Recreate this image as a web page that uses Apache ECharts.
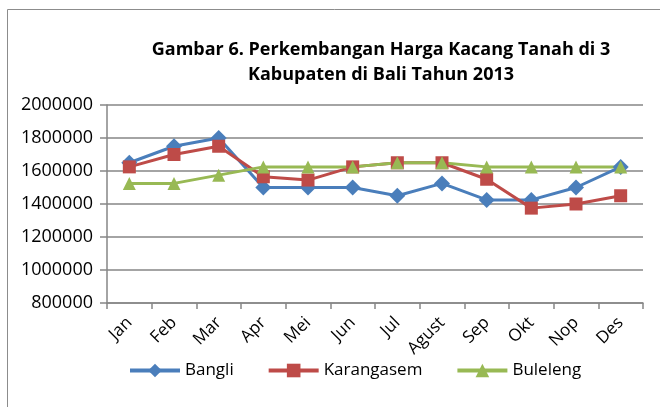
<!DOCTYPE html>
<html lang="en">
  <head>
    <meta charset="UTF-8" />
    <title>Harga Kacang Tanah di Bali 2013</title>
    <script src="https://cdn.jsdelivr.net/npm/echarts@6.0.0/dist/echarts.min.js"></script>
    <style>
      html, body { margin: 0; padding: 0; background: #fff; }
      #main { width: 660px; height: 407px; }
    </style>
  </head>
  <body>
    <div id="main"></div>
    <script>
      const months = ["Jan", "Feb", "Mar", "Apr", "Mei", "Jun", "Jul", "Agust", "Sep", "Okt", "Nop", "Des"];
      const bangli = [1650000, 1750000, 1800000, 1500000, 1500000, 1500000, 1450000, 1525000, 1425000, 1425000, 1500000, 1625000];
      const karangasem = [1625000, 1700000, 1750000, 1565000, 1545000, 1625000, 1650000, 1650000, 1550000, 1375000, 1400000, 1450000];
      const buleleng = [1525000, 1525000, 1575000, 1625000, 1625000, 1625000, 1650000, 1650000, 1625000, 1625000, 1625000, 1625000];
      const yTicks = { min: 800000, max: 2000000, step: 200000 };

      const font = "'Open Sans', sans-serif";
      let myChart = echarts.init(document.getElementById("main"));

      function makeSeries(name, data, color, symbol) {
        return {
          name: name,
          type: "line",
          data: data,
          symbol: symbol,
          symbolSize: symbol === "diamond" ? 16 : 13,
          lineStyle: { color: color, width: 3 },
          itemStyle: { color: color },
          animation: false,
        };
      }

      let options = {
        title: {
          text: "Gambar 6. Perkembangan Harga Kacang Tanah di 3\nKabupaten di Bali Tahun 2013",
          left: 376,
          top: 32,
          textAlign: "center",
          textStyle: { fontFamily: font, fontWeight: "bold", fontSize: 18, lineHeight: 25, color: "#000" },
        },
        graphic: [
          {
            type: "rect",
            shape: { x: 7.5, y: 9.5, width: 700, height: 420 },
            style: { fill: "none", stroke: "#8c8c8c", lineWidth: 1 },
          },
        ],
        legend: {
          bottom: 23,
          left: 123,
          itemWidth: 50,
          itemHeight: 17,
          itemGap: 33,
          lineStyle: { width: 4 },
          textStyle: { fontFamily: font, fontSize: 17, color: "#000" },
          data: ["Bangli", "Karangasem", "Buleleng"],
        },
        grid: { left: 107, right: 17, top: 105, bottom: 104 },
        xAxis: {
          type: "category",
          data: months,
          boundaryGap: true,
          axisLine: { lineStyle: { color: "#868686", width: 1.5 } },
          axisTick: { show: true, length: 6, lineStyle: { color: "#868686", width: 1.5 } },
          axisLabel: { rotate: 45, interval: 0, fontFamily: font, fontSize: 17, color: "#000", margin: 17 },
        },
        yAxis: {
          type: "value",
          min: yTicks.min,
          max: yTicks.max,
          interval: yTicks.step,
          axisLine: { show: true, lineStyle: { color: "#868686", width: 1.5 } },
          axisTick: { show: true, length: 7, lineStyle: { color: "#868686", width: 1.5 } },
          axisLabel: { fontFamily: font, fontSize: 18, color: "#000", margin: 14, formatter: (v) => String(v) },
          splitLine: { lineStyle: { color: "#868686", width: 1.5 } },
        },
        series: [
          makeSeries("Bangli", bangli, "#4a7ebb", "diamond"),
          makeSeries("Karangasem", karangasem, "#be4b48", "rect"),
          makeSeries("Buleleng", buleleng, "#98b954", "triangle"),
        ],
      };

      myChart.setOption(options);
    </script>
  </body>
</html>
